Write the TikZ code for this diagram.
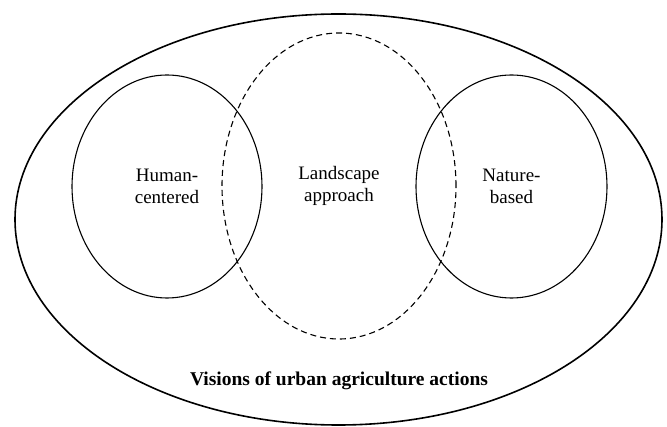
\documentclass[tikz,border=0pt]{standalone}
\usepackage{fontspec}
\setmainfont{Liberation Serif}
\usetikzlibrary{shapes.geometric}
\tikzset{
  oval/.style={draw=black, ellipse, inner sep=0pt, align=center,
    font=\fontsize{19}{21.5}\selectfont},
  thinoval/.style={oval, line width=1.1pt},
  dashoval/.style={oval, line width=1.1pt, dash pattern=on 6pt off 4pt},
  outeroval/.style={oval, line width=1.6pt},
  title/.style={font=\fontsize{19.5}{22}\selectfont\bfseries, inner sep=0pt}
}
\begin{document}
\begin{tikzpicture}[x=1pt,y=-1pt]
\useasboundingbox (0,0) rectangle (667,427);
\node[outeroval, minimum width=647pt, minimum height=411pt] (outer) at (338.5,219.5) {};
\node[dashoval, minimum width=234pt, minimum height=306pt] (land) at (339,186) {Landscape\\approach};
\node[thinoval, minimum width=190pt, minimum height=223pt] (human) at (167,186.5) {Human-\\centered};
\node[thinoval, minimum width=191pt, minimum height=223pt] (nature) at (511.5,186.5) {Nature-\\based};
\node[title] (vis) at (339,381) {Visions of urban agriculture actions};
\end{tikzpicture}
\end{document}
